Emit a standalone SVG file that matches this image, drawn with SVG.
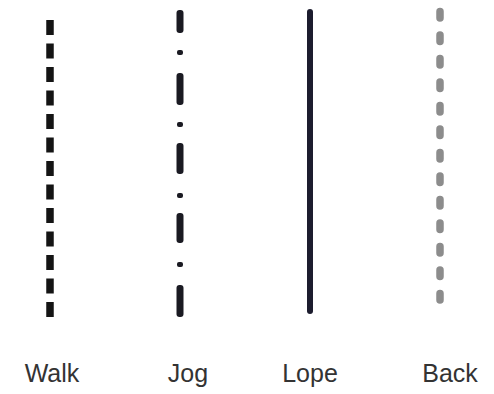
<svg xmlns="http://www.w3.org/2000/svg" width="494" height="394" viewBox="0 0 494 394">
<style>
.lbl{font-family:"Liberation Sans",Arial,sans-serif;font-size:25px;fill:#333333;text-anchor:middle}
.walk{stroke:#141414;stroke-width:7.5;stroke-dasharray:15 8.5;fill:none}
.jog{fill:#1a1a22}
.back{stroke:#8c8c8c;stroke-width:7.5;stroke-dasharray:6.5 17;stroke-linecap:round;fill:none}
</style>
<rect width="494" height="394" fill="#ffffff"/>
<g id="walk">
<line class="walk" x1="50" y1="20" x2="50" y2="317"/>
<text class="lbl" x="52" y="382">Walk</text>
</g>
<g id="jog">
<rect class="jog" x="176.5" y="10" width="7" height="23" rx="3"/>
<rect class="jog" x="177" y="50" width="6" height="5" rx="2"/>
<rect class="jog" x="176.5" y="73" width="7" height="32" rx="3"/>
<rect class="jog" x="177" y="122" width="6" height="5" rx="2"/>
<rect class="jog" x="176.5" y="143" width="7" height="31" rx="3"/>
<rect class="jog" x="177" y="193" width="6" height="5" rx="2"/>
<rect class="jog" x="176.5" y="213" width="7" height="30" rx="3"/>
<rect class="jog" x="177" y="262" width="6" height="5" rx="2"/>
<rect class="jog" x="176.5" y="285" width="7" height="32" rx="3"/>
<text class="lbl" x="188" y="382">Jog</text>
</g>
<g id="lope">
<line x1="310" y1="12" x2="310" y2="311" stroke="#1c1c2e" stroke-width="6" stroke-linecap="round"/>
<text class="lbl" x="310" y="382">Lope</text>
</g>
<g id="back">
<line class="back" x1="440" y1="11.5" x2="440" y2="300"/>
<text class="lbl" x="450" y="382">Back</text>
</g>
<g id="connectors"/>
</svg>
